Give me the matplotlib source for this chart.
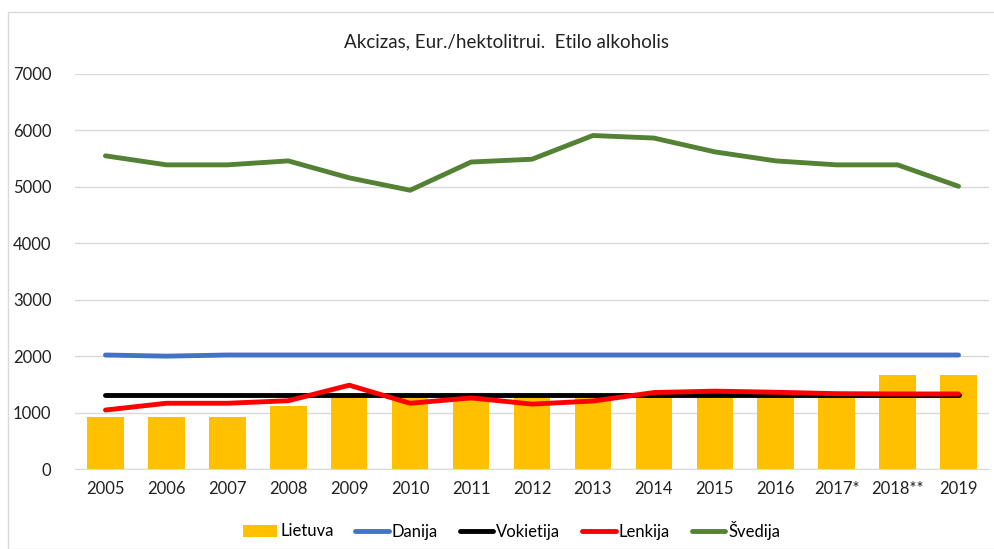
import matplotlib.pyplot as plt
import numpy as np
from matplotlib.patches import Rectangle

plt.rcParams['font.family'] = ['Lato', 'DejaVu Sans']

years = ["2005", "2006", "2007", "2008", "2009", "2010", "2011", "2012",
         "2013", "2014", "2015", "2016", "2017*", "2018**", "2019"]
lietuva = [920, 920, 920, 1110, 1300, 1300, 1300, 1300, 1300, 1300, 1300, 1300, 1300, 1660, 1660]
danija = [2020, 2000, 2020, 2020, 2020, 2020, 2020, 2020, 2020, 2020, 2020, 2020, 2020, 2020, 2020]
vokietija = [1303] * 15
lenkija = [1045, 1165, 1165, 1210, 1485, 1165, 1260, 1150, 1205, 1355, 1380, 1360, 1335, 1330, 1330]
svedija = [5550, 5390, 5390, 5460, 5160, 4940, 5440, 5490, 5910, 5865, 5620, 5460, 5390, 5390, 5010]

fig = plt.figure(figsize=(9.94, 5.49), dpi=100)
ax = fig.add_axes([75 / 994, 1 - 469 / 549, 914 / 994, 395 / 549])

x = np.arange(len(years))
b = ax.bar(x, lietuva, width=0.6, color="#FFC000", label="Lietuva", zorder=2)
l1, = ax.plot(x, danija, color="#4472C4", lw=3.5, label="Danija", solid_capstyle="round", zorder=3)
l2, = ax.plot(x, vokietija, color="black", lw=3.5, label="Vokietija", solid_capstyle="round", zorder=3)
l3, = ax.plot(x, lenkija, color="#FF0000", lw=3.5, label="Lenkija", solid_capstyle="round", zorder=4)
l4, = ax.plot(x, svedija, color="#548235", lw=3.5, label="Švedija", solid_capstyle="round", zorder=3)

ax.set_xlim(-0.5, len(years) - 0.5)
ax.set_ylim(0, 7000)
ax.set_yticks(range(0, 7001, 1000))
ax.set_xticks(x)
ax.set_xticklabels(years)
ax.grid(axis="y", color="#D9D9D9", lw=1, zorder=0)
for s in ["top", "right", "left"]:
    ax.spines[s].set_visible(False)
ax.spines["bottom"].set_color("#D9D9D9")
ax.tick_params(length=0, labelsize=12, colors="#222222")
ax.tick_params(axis="y", pad=17)
ax.tick_params(axis="x", pad=9)

fig.text(0.51, 1 - 42 / 549, "Akcizas, Eur./hektolitrui.  Etilo alkoholis",
         ha="center", va="center", fontsize=13.5, color="#222222")

fig.legend([b, l1, l2, l3, l4], ["Lietuva", "Danija", "Vokietija", "Lenkija", "Švedija"],
           loc="center", bbox_to_anchor=(0.515, 1 - 530 / 549), ncol=5,
           frameon=False, fontsize=12, handlelength=2.0, handletextpad=0.2,
           columnspacing=1.3)

fig.patches.append(Rectangle((8 / 994, 0), 1, 1 - 12 / 549, transform=fig.transFigure,
                             fill=False, edgecolor="#D9D9D9", lw=1))

fig.savefig("out.png", dpi=100)
